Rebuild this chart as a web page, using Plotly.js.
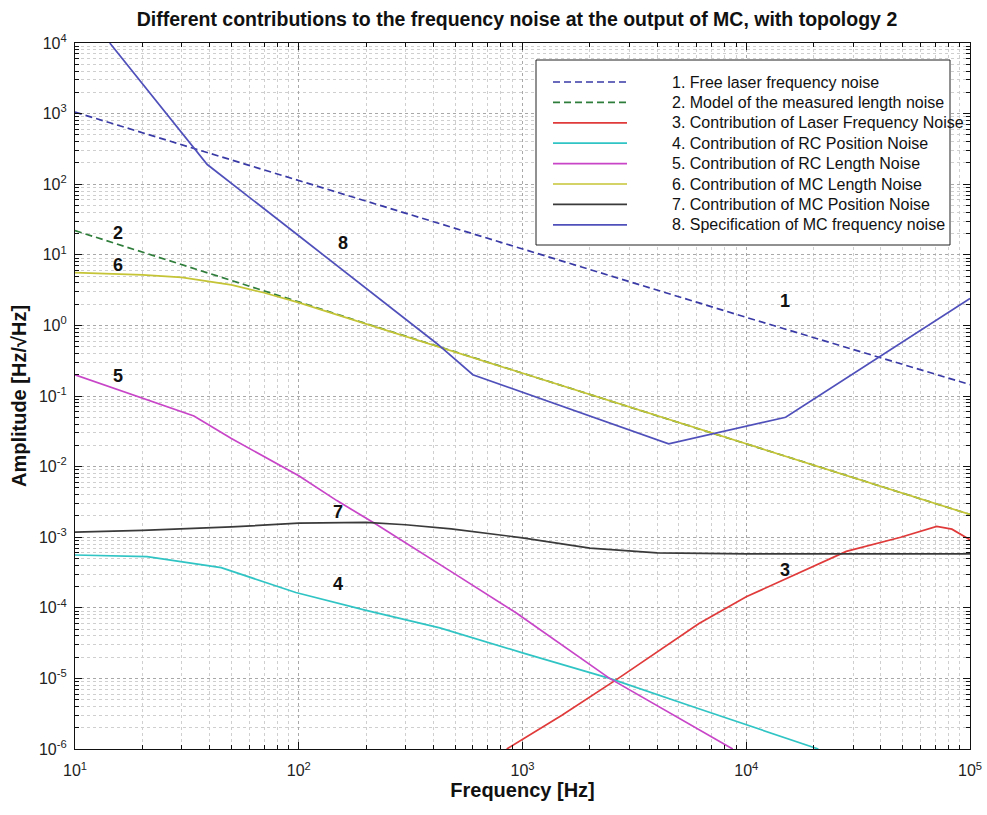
<!DOCTYPE html>
<html>
<head>
<meta charset="utf-8">
<script src="https://cdn.plot.ly/plotly-3.0.1.min.js"></script>
<style>html,body{margin:0;padding:0;background:#fff;}#chart{width:987px;height:815px;}</style>
</head>
<body>
<div id="chart"></div>
<script>
// ---- data (frequency in Hz, amplitude in Hz/sqrt(Hz)) ----
const freqFreeLaser = [10, 100, 1000, 10000, 100000];
const freeLaserNoise = [1050, 112, 12, 1.3, 0.145];

const freqModelLength = [10, 20, 30, 50, 100, 200, 500, 1000, 3000, 10000, 30000, 100000];
const modelLengthNoise = [22, 11, 7.3, 4.4, 2.15, 1.06, 0.42, 0.21, 0.07, 0.021, 0.007, 0.0021];

const freqLaserContrib = [850, 1500, 2680, 4000, 6150, 10000, 15000, 28000, 49000, 71000, 83000, 100000];
const laserContrib = [1e-6, 3.0e-6, 1.0e-5, 2.4e-5, 6e-5, 1.43e-4, 2.55e-4, 6.3e-4, 1.0e-3, 1.42e-3, 1.3e-3, 9.2e-4];

const freqRCPos = [10, 21, 45, 97, 200, 427, 1000, 2450, 6000, 21000];
const rcPositionContrib = [5.6e-4, 5.3e-4, 3.7e-4, 1.65e-4, 9.2e-5, 5.2e-5, 2.3e-5, 1.0e-5, 3.8e-6, 1.0e-6];

const freqRCLen = [10, 15, 20, 34, 50, 100, 148, 220, 500, 935, 2450, 8700];
const rcLengthContrib = [0.2, 0.127, 0.092, 0.052, 0.025, 0.0074, 0.0033, 0.00155, 3.0e-4, 8.5e-5, 1.0e-5, 1.0e-6];

const freqMCLen = [10, 15, 20, 30, 50, 70, 100, 150, 200, 300, 500, 1000, 3000, 10000, 30000, 100000];
const mcLengthContrib = [5.6, 5.4, 5.2, 4.8, 3.75, 2.9, 2.1, 1.4, 1.05, 0.7, 0.42, 0.21, 0.07, 0.021, 0.007, 0.0021];

const freqMCPos = [10, 20, 50, 100, 200, 300, 480, 1000, 2000, 4000, 10000, 100000];
const mcPositionContrib = [0.00118, 0.00125, 0.0014, 0.00158, 0.00162, 0.0015, 0.00131, 0.00098, 0.0007, 0.0006, 0.00058, 0.00058];

const freqSpec = [14.3, 22.3, 39, 100, 415, 600, 4500, 15000, 100000];
const mcFreqSpec = [10000, 1730, 190, 18.6, 0.55, 0.2, 0.021, 0.05, 2.4];

const seriesNames = [
  '1. Free laser frequency noise',
  '2. Model of the measured length noise',
  '3. Contribution of Laser Frequency Noise',
  '4. Contribution of RC Position Noise',
  '5. Contribution of RC Length Noise',
  '6. Contribution of MC Length Noise',
  '7. Contribution of MC Position Noise',
  '8. Specification of MC frequency noise'
];
const curveLabels = ['1', '2', '3', '4', '5', '6', '7', '8'];
const curveLabelX = [4.173, 1.19, 4.173, 2.174, 1.19, 1.19, 2.174, 2.198];   // log10(Hz)
const curveLabelY = [0.345, 1.31, -3.46, -3.66, -0.714, 0.857, -2.645, 1.167]; // log10(amplitude)

const xTickVals = [10, 100, 1000, 10000, 100000];
const xTickText = ['10<sup>1</sup>', '10<sup>2</sup>', '10<sup>3</sup>', '10<sup>4</sup>', '10<sup>5</sup>'];
const yTickVals = [1e-6, 1e-5, 1e-4, 1e-3, 1e-2, 1e-1, 1, 10, 100, 1000, 10000];
const yTickText = ['10<sup>-6</sup>', '10<sup>-5</sup>', '10<sup>-4</sup>', '10<sup>-3</sup>', '10<sup>-2</sup>',
  '10<sup>-1</sup>', '10<sup>0</sup>', '10<sup>1</sup>', '10<sup>2</sup>', '10<sup>3</sup>', '10<sup>4</sup>'];

// ---- styles ----
const FONT = 'Liberation Sans, Arial, Helvetica, sans-serif';
const colors = ['#3a3aa6', '#2f7d3a', '#e03a3a', '#30c4c4', '#c845c8', '#c4c436', '#3a3a3a', '#5050bb'];
const dashes = ['7px,4px', '7px,4px', 'solid', 'solid', 'solid', 'solid', 'solid', 'solid'];
const xs = [freqFreeLaser, freqModelLength, freqLaserContrib, freqRCPos, freqRCLen, freqMCLen, freqMCPos, freqSpec];
const ys = [freeLaserNoise, modelLengthNoise, laserContrib, rcPositionContrib, rcLengthContrib, mcLengthContrib, mcPositionContrib, mcFreqSpec];

const traces = xs.map((x, i) => ({
  x: x, y: ys[i], type: 'scatter', mode: 'lines', name: seriesNames[i],
  line: {color: colors[i], width: 1.7, dash: dashes[i]}, showlegend: false, hoverinfo: 'skip'
}));

const W = 987, H = 815;
const M = {l: 75, r: 17, t: 43, b: 66};
const pw = W - M.l - M.r, ph = H - M.t - M.b;
const px2x = p => (p - M.l) / pw;
const py2y = p => (H - M.b - p) / ph;

const shapes = [];
const annotations = [];
// legend box (drawn manually to mimic the reference)
shapes.push({type: 'rect', xref: 'paper', yref: 'paper', x0: px2x(536), x1: px2x(950), y0: py2y(245), y1: py2y(60),
  line: {color: '#222', width: 1}, fillcolor: '#ffffff', layer: 'above'});
for (let i = 0; i < seriesNames.length; i++) {
  const py = 82 + 20.4 * i;
  shapes.push({type: 'line', xref: 'paper', yref: 'paper', x0: px2x(553), x1: px2x(627), y0: py2y(py), y1: py2y(py),
    line: {color: colors[i], width: 1.7, dash: dashes[i]}, layer: 'above'});
  annotations.push({xref: 'paper', yref: 'paper', x: px2x(670), y: py2y(py), xanchor: 'left', yanchor: 'middle',
    text: seriesNames[i], showarrow: false, font: {family: FONT, size: 16, color: '#111'}});
}
for (let i = 0; i < curveLabels.length; i++) {
  annotations.push({xref: 'x', yref: 'y', x: curveLabelX[i], y: curveLabelY[i], text: '<b>' + curveLabels[i] + '</b>',
    showarrow: false, font: {family: FONT, size: 18, color: '#111'}});
}

const axisCommon = {
  type: 'log', showline: true, linecolor: '#111', linewidth: 1.2, mirror: 'allticks',
  ticks: 'inside', ticklen: 7, tickcolor: '#111', tickwidth: 1.2,
  showgrid: true, gridcolor: '#a8a8a8', griddash: 'dot', gridwidth: 1, zeroline: false,
  tickmode: 'array',
  tickfont: {family: FONT, size: 16, color: '#222'},
  minor: {dtick: 'D1', ticks: 'inside', ticklen: 4, tickcolor: '#111', showgrid: true, gridcolor: '#cfcfcf', griddash: 'dot', gridwidth: 1}
};

const layout = {
  width: W, height: H, margin: M, paper_bgcolor: '#fff', plot_bgcolor: '#fff', showlegend: false,
  hovermode: false,
  font: {family: FONT, size: 16, color: '#111'},
  title: {text: '<b>Different contributions to the frequency noise at the output of MC, with topology 2</b>',
    font: {family: FONT, size: 19.5, color: '#111'},
    x: 517 / W, xanchor: 'center', y: 1 - 19 / H, yanchor: 'middle'},
  xaxis: Object.assign({}, axisCommon, {range: [1, 5], tickvals: xTickVals, ticktext: xTickText,
    ticklabelstandoff: 7,
    title: {text: '<b>Frequency [Hz]</b>', font: {family: FONT, size: 20, color: '#111'}, standoff: 0}}),
  yaxis: Object.assign({}, axisCommon, {range: [-6, 4], tickvals: yTickVals, ticktext: yTickText,
    ticklabelstandoff: 4,
    title: {text: '<b>Amplitude [Hz/√Hz]</b>', font: {family: FONT, size: 20, color: '#111'}, standoff: 6}}),
  shapes: shapes,
  annotations: annotations
};

Plotly.newPlot('chart', traces, layout, {displayModeBar: false});
</script>
</body>
</html>
